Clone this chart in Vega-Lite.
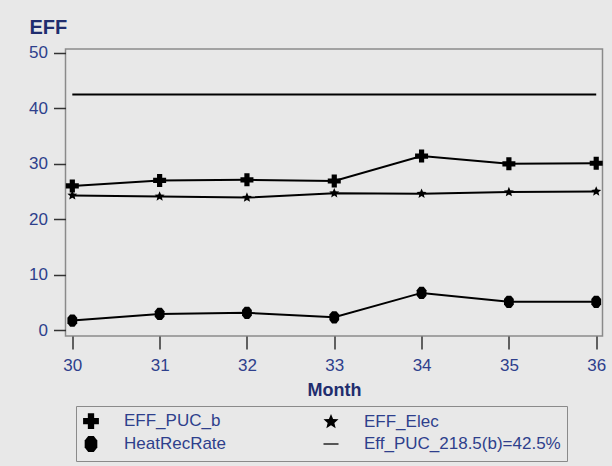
{
  "$schema": "https://vega.github.io/schema/vega-lite/v6.json",
  "width": 537,
  "height": 287,
  "autosize": {"type": "none"},
  "padding": {"left": 65.5, "top": 49, "right": 9.5, "bottom": 130},
  "background": "#e8e8e8",
  "config": {
    "font": "Liberation Sans",
    "view": {"stroke": "#8a8a8a", "strokeWidth": 1.5, "fill": "#e8e8e8"}
  },
  "data": {
    "values": [
      {"month": 30, "series": "EFF_PUC_b", "value": 26.0},
      {"month": 31, "series": "EFF_PUC_b", "value": 27.0},
      {"month": 32, "series": "EFF_PUC_b", "value": 27.1},
      {"month": 33, "series": "EFF_PUC_b", "value": 26.9},
      {"month": 34, "series": "EFF_PUC_b", "value": 31.4},
      {"month": 35, "series": "EFF_PUC_b", "value": 30.0},
      {"month": 36, "series": "EFF_PUC_b", "value": 30.1},
      {"month": 30, "series": "EFF_Elec", "value": 24.3},
      {"month": 31, "series": "EFF_Elec", "value": 24.1},
      {"month": 32, "series": "EFF_Elec", "value": 23.9},
      {"month": 33, "series": "EFF_Elec", "value": 24.7},
      {"month": 34, "series": "EFF_Elec", "value": 24.6},
      {"month": 35, "series": "EFF_Elec", "value": 24.9},
      {"month": 36, "series": "EFF_Elec", "value": 25.0},
      {"month": 30, "series": "HeatRecRate", "value": 1.7},
      {"month": 31, "series": "HeatRecRate", "value": 2.9},
      {"month": 32, "series": "HeatRecRate", "value": 3.1},
      {"month": 33, "series": "HeatRecRate", "value": 2.3},
      {"month": 34, "series": "HeatRecRate", "value": 6.7},
      {"month": 35, "series": "HeatRecRate", "value": 5.1},
      {"month": 36, "series": "HeatRecRate", "value": 5.1},
      {"month": 30, "series": "Eff_PUC_218.5(b)=42.5%", "value": 42.5},
      {"month": 31, "series": "Eff_PUC_218.5(b)=42.5%", "value": 42.5},
      {"month": 32, "series": "Eff_PUC_218.5(b)=42.5%", "value": 42.5},
      {"month": 33, "series": "Eff_PUC_218.5(b)=42.5%", "value": 42.5},
      {"month": 34, "series": "Eff_PUC_218.5(b)=42.5%", "value": 42.5},
      {"month": 35, "series": "Eff_PUC_218.5(b)=42.5%", "value": 42.5},
      {"month": 36, "series": "Eff_PUC_218.5(b)=42.5%", "value": 42.5}
    ]
  },
  "encoding": {
    "x": {
      "field": "month",
      "type": "quantitative",
      "scale": {"domain": [29.922, 36.072], "nice": false, "zero": false},
      "axis": {
        "values": [30, 31, 32, 33, 34, 35, 36],
        "format": "d",
        "title": "Month",
        "titleFontSize": 18,
        "titleFontWeight": "bold",
        "titleColor": "#1f2d6e",
        "titleY": 59,
        "titleBaseline": "alphabetic",
        "labelFontSize": 17,
        "labelColor": "#2e3f8c",
        "labelBaseline": "alphabetic",
        "labelPadding": 21,
        "labelFlush": false,
        "labelOverlap": false,
        "tickSize": 13,
        "tickColor": "#333333",
        "tickWidth": 1.5,
        "domain": false,
        "grid": false
      }
    },
    "y": {
      "field": "value",
      "type": "quantitative",
      "scale": {"domain": [-1.08, 50.72], "nice": false, "zero": false},
      "axis": {
        "values": [0, 10, 20, 30, 40, 50],
        "title": "EFF",
        "titleAngle": 0,
        "titleAlign": "left",
        "titleBaseline": "alphabetic",
        "titleX": -36.5,
        "titleY": -15.7,
        "titleFontSize": 20,
        "titleFontWeight": "bold",
        "titleColor": "#1f2d6e",
        "labelFontSize": 17,
        "labelColor": "#2e3f8c",
        "labelPadding": 6,
        "labelFlush": false,
        "labelOverlap": false,
        "tickSize": 12,
        "tickColor": "#333333",
        "tickWidth": 1.5,
        "domain": false,
        "grid": false
      }
    }
  },
  "layer": [
    {
      "mark": {"type": "line", "color": "black", "strokeWidth": 2},
      "encoding": {"detail": {"field": "series"}}
    },
    {
      "transform": [{"filter": {"field": "series", "equal": "EFF_PUC_b"}}],
      "mark": {"type": "point", "filled": true, "color": "black", "opacity": 1, "size": 169},
      "encoding": {
        "shape": {
          "field": "series",
          "type": "nominal",
          "scale": {
            "domain": ["EFF_PUC_b", "HeatRecRate", "EFF_Elec", "Eff_PUC_218.5(b)=42.5%"],
            "range": [
              "cross",
              "M-0.35,-1L0.35,-1L0.8,-0.45L0.8,0.45L0.35,1L-0.35,1L-0.8,0.45L-0.8,-0.45Z",
              "M0,-1L0.265,-0.364L0.951,-0.309L0.428,0.139L0.588,0.809L0,0.45L-0.588,0.809L-0.428,0.139L-0.951,-0.309L-0.265,-0.364Z",
              "M-0.95,-0.08L0.95,-0.08L0.95,0.08L-0.95,0.08Z"
            ]
          },
          "legend": {
            "orient": "none",
            "legendX": 10.5,
            "legendY": 357,
            "direction": "vertical",
            "columns": 2,
            "title": null,
            "labelFontSize": 17,
            "labelColor": "#2e3f8c",
            "labelOffset": 24,
            "labelLimit": 300,
            "symbolSize": 250,
            "padding": 6,
            "rowPadding": 1,
            "columnPadding": 93,
            "strokeColor": "#8a8a8a",
            "fillColor": "#e8e8e8",
            "symbolFillColor": "black",
            "symbolStrokeColor": "black",
            "symbolOpacity": 1
          }
        }
      }
    },
    {
      "transform": [{"filter": {"field": "series", "equal": "EFF_Elec"}}],
      "mark": {"type": "point", "filled": true, "color": "black", "opacity": 1, "size": 110},
      "encoding": {"shape": {"field": "series", "type": "nominal"}}
    },
    {
      "transform": [{"filter": {"field": "series", "equal": "HeatRecRate"}}],
      "mark": {"type": "point", "filled": true, "color": "black", "opacity": 1, "size": 150},
      "encoding": {"shape": {"field": "series", "type": "nominal"}}
    }
  ]
}
